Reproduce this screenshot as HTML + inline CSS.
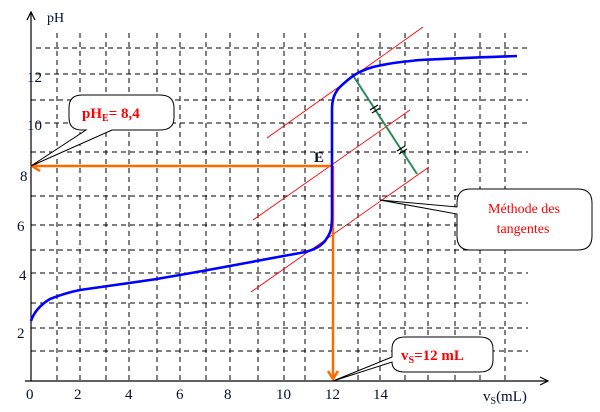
<!DOCTYPE html>
<html><head><meta charset="utf-8"><style>
html,body{margin:0;padding:0;background:#fff}
svg{display:block;font-family:"Liberation Serif",serif}
</style></head><body>
<svg width="600" height="412" viewBox="0 0 600 412" xmlns="http://www.w3.org/2000/svg">
<g stroke="#000" stroke-width="1" stroke-dasharray="5,4" fill="none">
<line x1="36" y1="48" x2="528" y2="48"/>
<line x1="36" y1="74" x2="528" y2="74"/>
<line x1="31" y1="100" x2="528" y2="100"/>
<line x1="36" y1="123" x2="528" y2="123"/>
<line x1="31" y1="152" x2="528" y2="152"/>
<line x1="31" y1="196" x2="528" y2="196"/>
<line x1="31" y1="225" x2="528" y2="225"/>
<line x1="31" y1="250" x2="528" y2="250"/>
<line x1="31" y1="273" x2="528" y2="273"/>
<line x1="31" y1="303" x2="528" y2="303"/>
<line x1="31" y1="328" x2="528" y2="328"/>
<line x1="31" y1="351" x2="528" y2="351"/>
<line x1="57" y1="33" x2="57" y2="381"/>
<line x1="80" y1="33" x2="80" y2="381"/>
<line x1="106" y1="33" x2="106" y2="381"/>
<line x1="129" y1="33" x2="129" y2="381"/>
<line x1="157" y1="33" x2="157" y2="381"/>
<line x1="180" y1="33" x2="180" y2="381"/>
<line x1="206" y1="33" x2="206" y2="381"/>
<line x1="230" y1="33" x2="230" y2="381"/>
<line x1="258" y1="33" x2="258" y2="381"/>
<line x1="284" y1="33" x2="284" y2="381"/>
<line x1="305" y1="33" x2="305" y2="381"/>
<line x1="358" y1="33" x2="358" y2="381"/>
<line x1="380" y1="33" x2="380" y2="381"/>
<line x1="405" y1="33" x2="405" y2="381"/>
<line x1="428" y1="33" x2="428" y2="381"/>
<line x1="455" y1="33" x2="455" y2="381"/>
<line x1="480" y1="33" x2="480" y2="381"/>
<line x1="505" y1="33" x2="505" y2="381"/>
</g>
<g stroke="#000" stroke-width="1.2" fill="none">
<line x1="31" y1="381" x2="31" y2="12"/>
<polyline points="27,20 31,12 35,20"/>
<line x1="25" y1="381" x2="548" y2="381"/>
<polyline points="540,377 548,381 540,385"/>
</g>
<g stroke="#f00" stroke-width="0.9">
<line x1="267" y1="138" x2="423" y2="27"/>
<line x1="253" y1="220" x2="410" y2="110"/>
<line x1="251" y1="292" x2="429" y2="167"/>
</g>
<line x1="354" y1="77" x2="417" y2="174" stroke="#2e8b57" stroke-width="2"/>
<g stroke="#000" stroke-width="1.3">
<line x1="370" y1="110" x2="378" y2="105"/><line x1="372" y1="113" x2="380" y2="108"/>
<line x1="397" y1="151" x2="405" y2="146"/><line x1="399" y1="154" x2="407" y2="149"/>
</g>
<g stroke="#ff6a00" stroke-width="2.5" fill="none">
<line x1="35" y1="166" x2="333" y2="166"/>
<polyline points="40,161 32,166 40,171"/>
<line x1="333" y1="166" x2="333" y2="378"/>
<polyline points="328,371 333,379 338,371"/>
</g>
<path d="M31,321 C34,312 40,305 50,299 C60,295 70,292 80,290 C100,287 130,283 150,280 C200,272 250,262 300,253 C312,251 322,247 327,238 C331,232 332,228 332,215 L332,110 C332,100 334,92 342,85 C350,78 356,72 373,67 C390,63 400,62 420,60 C460,58 490,57 517,56" stroke="#0000ff" stroke-width="2.6" fill="none"/>
<g font-size="15" fill="#001030">
<text x="47" y="22" font-size="14">pH</text>
<text x="27" y="82">12</text>
<text x="27" y="130">10</text>
<text x="20" y="181">8</text>
<text x="17" y="231">6</text>
<text x="19" y="280">4</text>
<text x="17" y="338">2</text>
<text x="26" y="399">0</text>
<text x="74" y="399">2</text>
<text x="125" y="399">4</text>
<text x="176" y="399">6</text>
<text x="224" y="399">8</text>
<text x="276" y="399">10</text>
<text x="325" y="399">12</text>
<text x="373" y="399">14</text>
<text x="483" y="401">v<tspan font-size="10" dy="3">S</tspan><tspan dy="-3">(mL)</tspan></text>
<text x="314" y="162" font-weight="bold">E</text>
</g>
<g stroke="#000" stroke-width="1" fill="#fff">
<path d="M82,95 L160,95 Q174,95 174,108 L174,118 Q174,130 160,130 L112,130 L31,166 L86,130 L82,130 Q69,130 69,118 L69,108 Q69,95 82,95 Z"/>
<path d="M470,189 L578,189 Q592,189 592,203 L592,236 Q592,250 578,250 L470,250 Q457,250 457,236 L457,214 L380,200 L457,207 L457,203 Q457,189 470,189 Z"/>
<path d="M405,337 L480,337 Q493,337 493,349 L493,360 Q493,372 480,372 L405,372 Q392,372 392,362 L333,381 L392,357 L392,349 Q392,337 405,337 Z"/>
</g>
<g fill="#f00" font-weight="bold" font-size="15">
<text x="82" y="118">pH<tspan font-size="10" dy="3">E</tspan><tspan dy="-3">= 8,4</tspan></text>
<text x="401" y="360">v<tspan font-size="10" dy="3">S</tspan><tspan dy="-3">=12 mL</tspan></text>
</g>
<g fill="#f00" font-size="14" text-anchor="middle">
<text x="524" y="213">Méthode des</text>
<text x="523" y="233">tangentes</text>
</g>
</svg>
</body></html>
